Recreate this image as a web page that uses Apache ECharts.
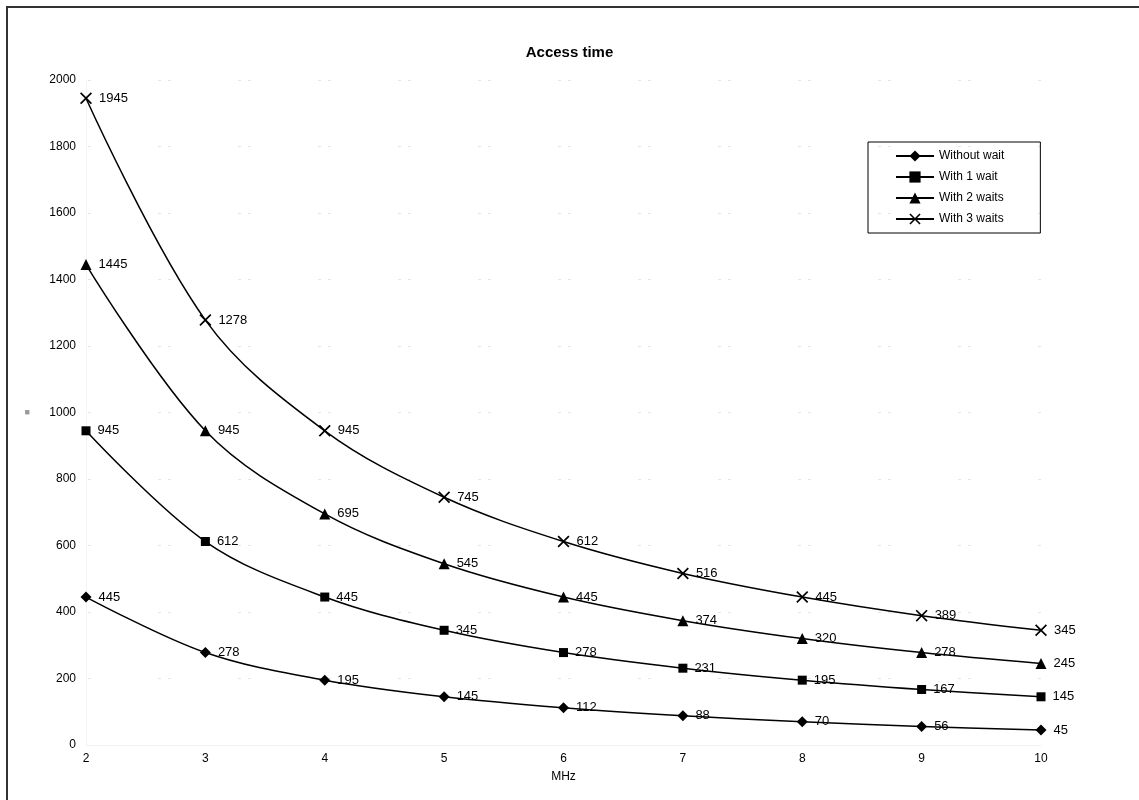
<!DOCTYPE html>
<html>
<head>
<meta charset="utf-8">
<style>html,body{margin:0;padding:0;background:#fff;}#c{width:1139px;height:800px;}</style>
<script src="https://cdn.jsdelivr.net/npm/echarts@6/dist/echarts.min.js"></script>
</head>
<body>
<div id="c"></div>
<script>
const xValues = [2, 3, 4, 5, 6, 7, 8, 9, 10];
const withoutWait = [445, 278, 195, 145, 112, 88, 70, 56, 45];
const with1Wait = [945, 612, 445, 345, 278, 231, 195, 167, 145];
const with2Waits = [1445, 945, 695, 545, 445, 374, 320, 278, 245];
const with3Waits = [1945, 1278, 945, 745, 612, 516, 445, 389, 345];
const seriesNames = ['Without wait', 'With 1 wait', 'With 2 waits', 'With 3 waits'];

const FONT = '"Liberation Sans", Arial, sans-serif';
const crossPath = 'path://M0,1 L1,0 L5,4 L9,0 L10,1 L6,5 L10,9 L9,10 L5,6 L1,10 L0,9 L4,5 Z';
const symbols = ['diamond', 'rect', 'triangle', crossPath];
const symbolSizes = [11, 9, 11, 12];
const allData = [withoutWait, with1Wait, with2Waits, with3Waits];

const chart = echarts.init(document.getElementById('c'));
chart.setOption({
  animation: false,
  backgroundColor: '#fff',
  textStyle: { fontFamily: FONT },
  graphic: [{
    type: 'rect',
    shape: { x: 7, y: 7, width: 1200, height: 900 },
    style: { fill: 'none', stroke: '#333', lineWidth: 2 },
    silent: true
  }],
  title: {
    text: 'Access time',
    left: 'center',
    top: 40,
    textStyle: { fontFamily: FONT, fontSize: 15, fontWeight: 'bold', color: '#000' }
  },
  legend: {
    orient: 'vertical',
    left: 868,
    top: 142,
    padding: [8, 36, 8, 27],
    borderColor: '#000',
    borderWidth: 1,
    itemWidth: 38,
    itemHeight: 14,
    itemGap: 9,
    data: seriesNames,
    textStyle: { fontFamily: FONT, fontSize: 12, color: '#000' }
  },
  grid: { left: 86, right: 98, top: 80, bottom: 55, containLabel: false },
  xAxis: {
    type: 'value',
    min: 2, max: 10, interval: 1,
    name: 'MHz',
    nameLocation: 'middle',
    nameGap: 26,
    nameTextStyle: { fontFamily: FONT, fontSize: 12, color: '#000' },
    axisLine: { show: true, lineStyle: { color: '#f2f2f2' } },
    axisTick: { show: false },
    axisLabel: { fontFamily: FONT, fontSize: 12, color: '#000', margin: 8 },
    splitLine: { show: false }
  },
  yAxis: {
    type: 'value',
    min: 0, max: 2000, interval: 200,
    name: '■',
    nameLocation: 'middle',
    nameGap: 56,
    nameRotate: 0,
    nameTextStyle: { fontSize: 9, color: '#999' },
    axisLine: { show: true, lineStyle: { color: '#f4f4f4' } },
    axisTick: { show: false },
    axisLabel: { fontFamily: FONT, fontSize: 12, color: '#000', margin: 10, formatter: v => String(v) },
    splitLine: { show: true, lineStyle: { color: '#e4e4e4', type: [3, 7, 3, 67], dashOffset: -72 } }
  },
  series: seriesNames.map((name, i) => ({
    name: name,
    type: 'line',
    smooth: 0.35,
    data: xValues.map((x, j) => [x, allData[i][j]]),
    symbol: symbols[i],
    symbolSize: symbolSizes[i],
    itemStyle: { color: '#000' },
    lineStyle: { color: '#000', width: 1.5 },
    label: {
      show: true,
      position: 'right',
      distance: 7,
      fontFamily: FONT,
      fontSize: 13,
      color: '#000',
      formatter: p => p.value[1]
    },
    z: 2
  }))
});
</script>
</body>
</html>
